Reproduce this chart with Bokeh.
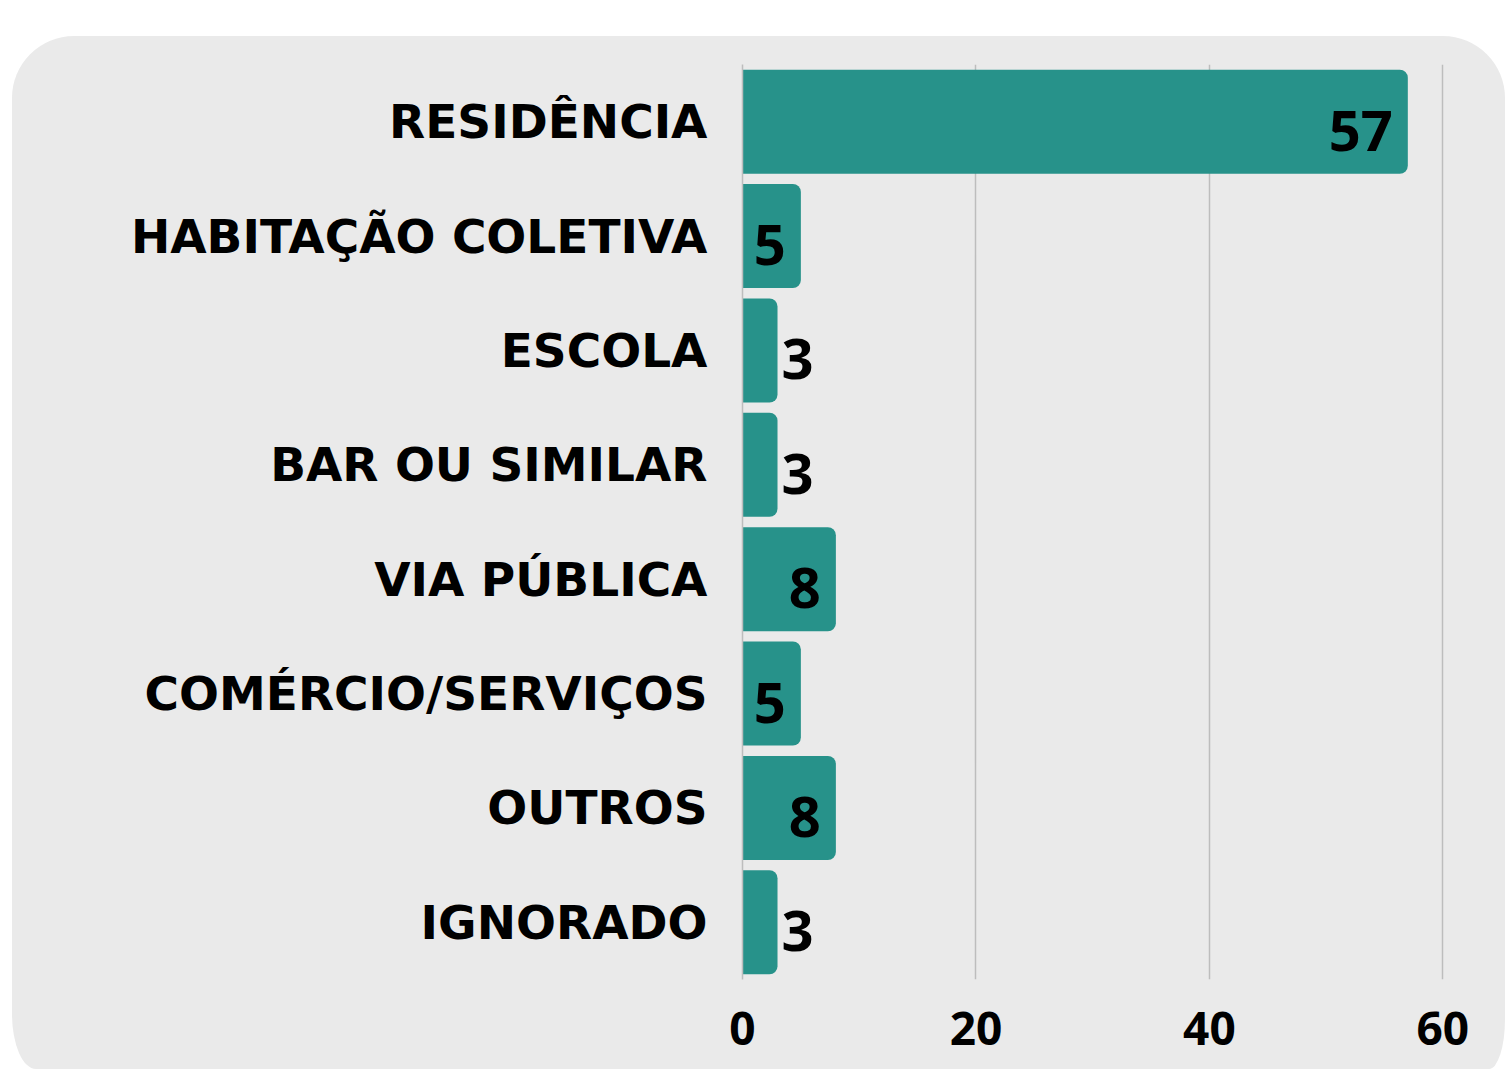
from bokeh.plotting import figure
from bokeh.models import FactorRange, Range1d, FixedTicker, ColumnDataSource
from bokeh.core.properties import value as V
from bokeh.embed import file_html
from bokeh.resources import INLINE

categories = ["RESIDÊNCIA", "HABITAÇÃO COLETIVA", "ESCOLA", "BAR OU SIMILAR",
              "VIA PÚBLICA", "COMÉRCIO/SERVIÇOS", "OUTROS", "IGNORADO"]
values = [57, 5, 3, 3, 8, 5, 8, 3]
x_ticks = [0, 20, 40, 60]

BAR = "#27928A"
PANEL = "#EAEAEA"
GRID = "#BDBDBD"

W, H = 1493, 1033
p = figure(width=W, height=H, output_backend="svg", toolbar_location=None,
           y_range=FactorRange(factors=categories[::-1], range_padding=0),
           x_range=Range1d(0, 60.4),
           min_border_left=730, min_border_right=58, min_border_top=28, min_border_bottom=90)
p.margin = (36, 0, 0, 12)
p.styles = {"background-color": PANEL,
            "border-radius": "62px 62px 16px 24px / 62px 62px 50px 55px"}
p.border_fill_color = None
p.background_fill_color = None
p.outline_line_color = None

src = ColumnDataSource(dict(cat=categories, val=values))
p.hbar(y="cat", left=0, right="val", height=0.91, source=src, fill_color=BAR,
       line_color=None, border_radius=(0, 8, 8, 0))

inside = ColumnDataSource(dict(cat=[c for c, v in zip(categories, values) if v >= 5],
                               val=[v for v in values if v >= 5],
                               lab=[str(v) for v in values if v >= 5]))
outside = ColumnDataSource(dict(cat=[c for c, v in zip(categories, values) if v < 5],
                                val=[v for v in values if v < 5],
                                lab=[str(v) for v in values if v < 5]))
for s, al, xo in ((inside, "right", -15), (outside, "left", 4)):
    p.text(x="val", y="cat", text="lab", source=s, text_align=al, x_offset=xo,
           y_offset=9, text_baseline="middle", text_font=V("Open Sans"),
           text_font_style="bold", text_font_size="56px", text_color="black")

p.xgrid.ticker = FixedTicker(ticks=x_ticks)
p.xgrid.grid_line_color = GRID
p.xgrid.grid_line_width = 1.5
p.ygrid.grid_line_color = None

xa = p.xaxis[0]
xa.ticker = FixedTicker(ticks=x_ticks)
xa.axis_line_color = None
xa.major_tick_line_color = None
xa.minor_tick_line_color = None
xa.major_label_standoff = 26
xa.major_label_text_font = "Open Sans"
xa.major_label_text_font_style = "bold"
xa.major_label_text_font_size = "46px"
xa.major_label_text_color = "black"

ya = p.yaxis[0]
ya.axis_line_color = GRID
ya.axis_line_width = 1.5
ya.major_tick_line_color = None
ya.minor_tick_line_color = None
ya.major_label_standoff = 29
ya.major_label_text_font = "DejaVu Sans"
ya.major_label_text_font_style = "bold"
ya.major_label_text_font_size = "47px"
ya.major_label_text_color = "black"

open("out.html", "w").write(file_html(p, INLINE))
